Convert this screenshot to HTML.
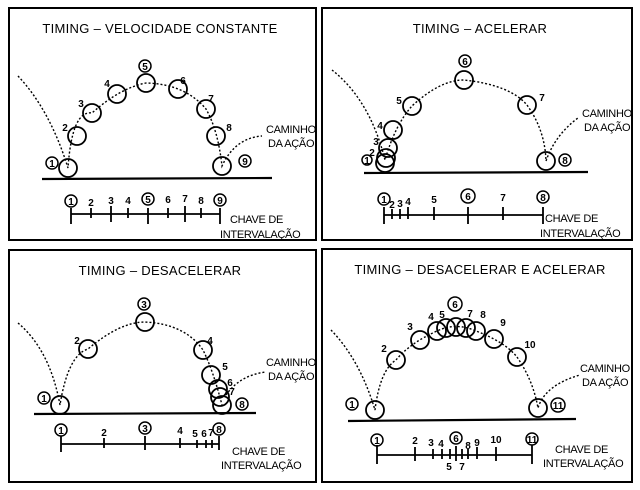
<!DOCTYPE html>
<html><head><style>
html,body{margin:0;padding:0;background:#fff;width:640px;height:490px;overflow:hidden}
svg{display:block}
text{font-family:"Liberation Sans",sans-serif;fill:#000}
.t{font-size:13px;text-anchor:middle;letter-spacing:0.3px}
.n{font-size:10px;font-weight:bold;text-anchor:middle}
.c{font-size:11px;letter-spacing:-0.3px}
</style></head><body>
<svg width="640" height="490" viewBox="0 0 640 490" xmlns="http://www.w3.org/2000/svg">
<g fill="none" stroke="#000" stroke-width="2">
<rect x="9" y="8" width="307" height="232"/>
<rect x="322" y="8" width="310" height="232"/>
<rect x="9" y="250" width="307" height="232"/>
<rect x="322" y="249" width="310" height="233"/>
</g>
<g class="t">
<text x="160" y="33" class="t">TIMING – VELOCIDADE CONSTANTE</text>
<text x="480" y="33" class="t">TIMING – ACELERAR</text>
<text x="160" y="275" class="t">TIMING – DESACELERAR</text>
<text x="480" y="274" class="t">TIMING – DESACELERAR E ACELERAR</text>
</g>
<!-- grounds -->
<g stroke="#000" stroke-width="2.2" fill="none">
<line x1="42" y1="179" x2="272" y2="178"/>
<line x1="364" y1="173" x2="588" y2="172"/>
<line x1="34" y1="414" x2="256" y2="413"/>
<line x1="348" y1="421" x2="576" y2="419"/>
</g>
<!-- dotted paths -->
<g stroke="#000" stroke-width="1.4" fill="none" stroke-dasharray="2,2">
<path d="M18 76 Q50 110 68 168 Q72 110 92 113 Q120 88 146 83 Q185 84 206 109 Q218 130 222 166 Q235 138 262 136"/>
<path d="M332 70 Q370 100 385 160 Q395 125 412 106 Q440 80 464 80 Q510 85 527 105 Q545 130 546 161 Q555 135 578 118"/>
<path d="M18 323 Q50 350 60 405 Q68 355 88 349 Q120 322 145 322 Q185 324 203 350 Q213 370 222 405 M226 395 Q240 375 266 372"/>
<path d="M331 330 Q360 360 375 410 Q380 370 396 360 Q410 343 437 331 Q456 322 476 331 Q505 342 517 357 Q533 380 538 408 Q545 385 580 375"/>
</g>
<!-- balls -->
<g stroke="#000" stroke-width="1.8" fill="none">
<circle cx="68" cy="168" r="9"/><circle cx="77" cy="136" r="9"/><circle cx="92" cy="113" r="9"/><circle cx="117" cy="94" r="9"/><circle cx="146" cy="83" r="9"/><circle cx="178" cy="89" r="9"/><circle cx="206" cy="109" r="9"/><circle cx="216" cy="136" r="9"/><circle cx="222" cy="166" r="9"/>
<circle cx="385" cy="163" r="9"/><circle cx="386" cy="158" r="9"/><circle cx="388" cy="148" r="9"/><circle cx="393" cy="130" r="9"/><circle cx="412" cy="106" r="9"/><circle cx="464" cy="80" r="9"/><circle cx="527" cy="105" r="9"/><circle cx="546" cy="161" r="9"/>
<circle cx="60" cy="405" r="9"/><circle cx="88" cy="349" r="9"/><circle cx="145" cy="322" r="9"/><circle cx="203" cy="350" r="9"/><circle cx="211" cy="375" r="9"/><circle cx="218" cy="389" r="9"/><circle cx="220" cy="397" r="9"/><circle cx="222" cy="405" r="9"/>
<circle cx="375" cy="410" r="9"/><circle cx="396" cy="360" r="9"/><circle cx="420" cy="340" r="9"/><circle cx="437" cy="331" r="9"/><circle cx="446" cy="328" r="9"/><circle cx="456" cy="327" r="9"/><circle cx="466" cy="328" r="9"/><circle cx="476" cy="331" r="9"/><circle cx="494" cy="339" r="9"/><circle cx="517" cy="357" r="9"/><circle cx="538" cy="408" r="9"/>
</g>
<!-- ball labels -->
<g class="n">
<text x="52" y="167" class="n">1</text><text x="65" y="131" class="n">2</text><text x="81" y="107" class="n">3</text><text x="107" y="87" class="n">4</text><text x="145" y="70" class="n">5</text><text x="183" y="84" class="n">6</text><text x="211" y="102" class="n">7</text><text x="229" y="131" class="n">8</text><text x="245" y="165" class="n">9</text>
<text x="367" y="164" class="n">1</text><text x="372" y="156" class="n">2</text><text x="376" y="145" class="n">3</text><text x="380" y="129" class="n">4</text><text x="399" y="104" class="n">5</text><text x="465" y="65" class="n">6</text><text x="542" y="101" class="n">7</text><text x="565" y="164" class="n">8</text>
<text x="44" y="402" class="n">1</text><text x="77" y="344" class="n">2</text><text x="144" y="308" class="n">3</text><text x="210" y="344" class="n">4</text><text x="225" y="370" class="n">5</text><text x="230" y="386" class="n">6</text><text x="232" y="395" class="n">7</text><text x="242" y="408" class="n">8</text>
<text x="352" y="408" class="n">1</text><text x="384" y="352" class="n">2</text><text x="410" y="330" class="n">3</text><text x="431" y="320" class="n">4</text><text x="442" y="318" class="n">5</text><text x="455" y="308" class="n">6</text><text x="470" y="317" class="n">7</text><text x="483" y="318" class="n">8</text><text x="503" y="326" class="n">9</text><text x="530" y="348" class="n">10</text><text x="558" y="409" class="n">11</text>
</g>
<g fill="none" stroke="#000" stroke-width="1.5">
<circle cx="52" cy="163" r="6"/><circle cx="145" cy="66" r="6"/><circle cx="245" cy="161" r="6"/>
<circle cx="367" cy="160" r="5"/><circle cx="465" cy="61" r="6"/><circle cx="565" cy="160" r="6"/>
<circle cx="44" cy="398" r="6"/><circle cx="144" cy="304" r="6"/><circle cx="242" cy="404" r="6"/>
<circle cx="352" cy="404" r="6"/><circle cx="455" cy="304" r="7"/><circle cx="558" cy="405" r="7"/>
</g>
<!-- captions -->
<g class="c">
<text x="266" y="133" class="c">CAMINHO</text><text x="268" y="147" class="c">DA AÇÃO</text>
<text x="582" y="117" class="c">CAMINHO</text><text x="584" y="131" class="c">DA AÇÃO</text>
<text x="266" y="366" class="c">CAMINHO</text><text x="268" y="380" class="c">DA AÇÃO</text>
<text x="580" y="372" class="c">CAMINHO</text><text x="582" y="386" class="c">DA AÇÃO</text>
<text x="230" y="223" class="c">CHAVE DE</text><text x="220" y="238" class="c">INTERVALAÇÃO</text>
<text x="545" y="222" class="c">CHAVE DE</text><text x="540" y="237" class="c">INTERVALAÇÃO</text>
<text x="232" y="455" class="c">CHAVE DE</text><text x="221" y="469" class="c">INTERVALAÇÃO</text>
<text x="555" y="453" class="c">CHAVE DE</text><text x="543" y="467" class="c">INTERVALAÇÃO</text>
</g>
<!-- timelines -->
<g stroke="#000" stroke-width="1.8" fill="none">
<path d="M71 214H220 M71 208V224 M91 208V218 M111 206V222 M128 208V218 M148 208V224 M168 208V218 M185 206V222 M201 208V218 M220 208V224"/>
<path d="M384 215H543 M384 207V224 M392 209V219 M400 209V219 M408 207V219 M434 207V220 M468 207V224 M503 207V220 M543 207V224"/>
<path d="M61 444H219 M61 436V452 M104 438V448 M145 436V450 M180 438V448 M197 440V448 M206 440V448 M212 440V448 M219 436V450"/>
<path d="M377 455H532 M377 445V464 M415 447V461 M433 449V459 M442 449V459 M450 449V459 M456 446V461 M462 449V459 M468 449V459 M477 447V459 M496 447V461 M532 445V464"/>
</g>
<g fill="none" stroke="#000" stroke-width="1.5">
<circle cx="71" cy="201" r="6"/><circle cx="148" cy="199" r="6"/><circle cx="220" cy="200" r="6"/>
<circle cx="384" cy="199" r="6"/><circle cx="468" cy="196" r="7"/><circle cx="543" cy="197" r="6"/>
<circle cx="61" cy="430" r="6"/><circle cx="145" cy="428" r="6"/><circle cx="219" cy="429" r="6"/>
<circle cx="377" cy="440" r="6"/><circle cx="456" cy="438" r="6"/><circle cx="532" cy="439" r="6"/>
</g>
<g class="n">
<text x="71" y="205" class="n">1</text><text x="91" y="206" class="n">2</text><text x="111" y="204" class="n">3</text><text x="128" y="204" class="n">4</text><text x="148" y="203" class="n">5</text><text x="168" y="203" class="n">6</text><text x="185" y="202" class="n">7</text><text x="201" y="204" class="n">8</text><text x="220" y="204" class="n">9</text>
<text x="384" y="203" class="n">1</text><text x="392" y="208" class="n">2</text><text x="400" y="207" class="n">3</text><text x="408" y="205" class="n">4</text><text x="434" y="203" class="n">5</text><text x="468" y="200" class="n">6</text><text x="503" y="201" class="n">7</text><text x="543" y="201" class="n">8</text>
<text x="61" y="434" class="n">1</text><text x="104" y="436" class="n">2</text><text x="145" y="432" class="n">3</text><text x="180" y="434" class="n">4</text><text x="195" y="437" class="n">5</text><text x="204" y="437" class="n">6</text><text x="211" y="436" class="n">7</text><text x="219" y="433" class="n">8</text>
<text x="377" y="444" class="n">1</text><text x="415" y="444" class="n">2</text><text x="431" y="446" class="n">3</text><text x="441" y="447" class="n">4</text><text x="449" y="470" class="n">5</text><text x="456" y="442" class="n">6</text><text x="462" y="470" class="n">7</text><text x="468" y="449" class="n">8</text><text x="477" y="446" class="n">9</text><text x="496" y="443" class="n">10</text><text x="532" y="443" class="n">11</text>
</g>
</svg>
</body></html>
